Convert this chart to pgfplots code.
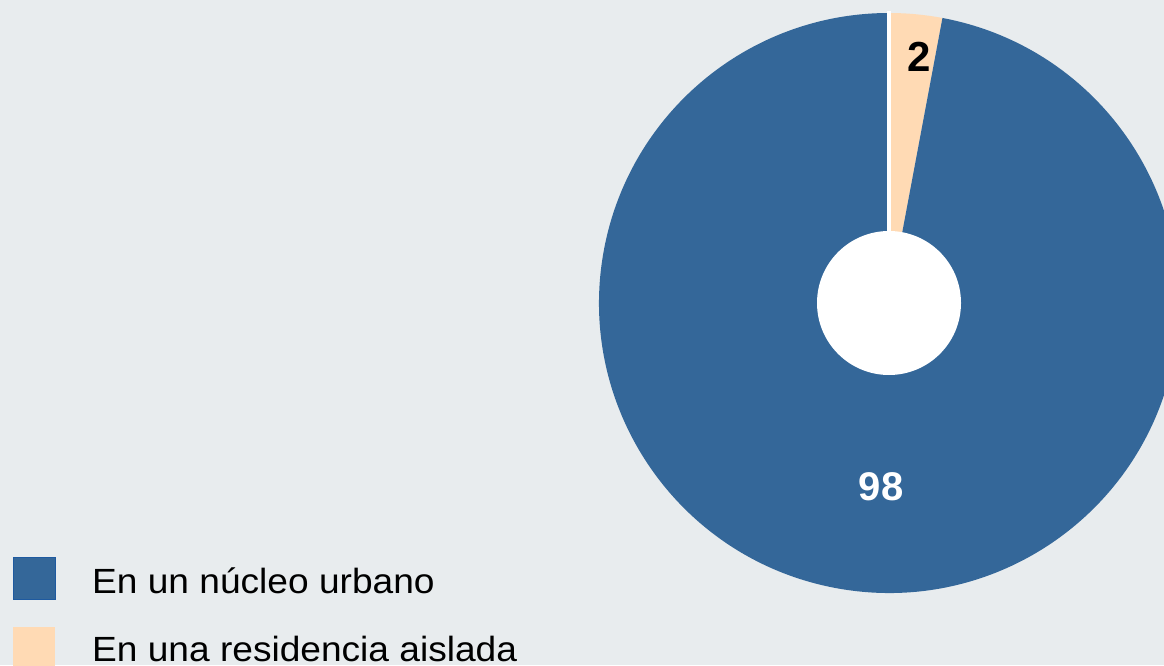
\documentclass[border=0pt]{standalone}
\usepackage{pgfplots}
\pgfplotsset{compat=1.18}
\usepackage{fontspec}
\setmainfont{Liberation Sans}
\newfontfamily\legfont{Liberation Sans}[FakeStretch=1.06]
\definecolor{bg}{RGB}{232,236,238}
\definecolor{cblue}{RGB}{52,103,153}
\definecolor{cblueedge}{RGB}{30,90,160}
\definecolor{cpeach}{RGB}{255,218,180}
\begin{document}
\begin{tikzpicture}
\def\valA{97.05}% En un nucleo urbano (label 98)
\def\valB{2.95}% En una residencia aislada (label 2)
\begin{axis}[x=1pt,y=1pt,xmin=0,xmax=1164,ymin=0,ymax=665,hide axis,clip=true,
  axis line style={draw=none}]
\fill[bg] (axis cs:0,0) rectangle (axis cs:1164,665);
\pgfmathsetmacro{\angB}{360*\valB/100}
\pgfmathsetmacro{\endB}{90-\angB}
\pgfmathsetmacro{\endA}{90-360}
% peach slice
\fill[cpeach] (axis cs:889,362) -- ++(90:290pt) arc[start angle=90,end angle=\endB,radius=290pt] -- cycle;
% blue slice
\fill[cblue] (axis cs:889,362) -- ++(\endB:290pt) arc[start angle=\endB,end angle=\endA,radius=290pt] -- cycle;
\draw[white,line width=4pt] (axis cs:889,362) -- ++(90:292pt);
\fill[white] (axis cs:889,362) circle[radius=72pt];
\node[font=\fontsize{42}{42}\selectfont\bfseries,text=black] at (axis cs:919,608) {2};
\node[font=\fontsize{40}{40}\selectfont\bfseries,text=white] at (axis cs:881,178) {98};
% legend
\fill[cblue,draw=cblueedge,line width=1pt] (axis cs:13.5,65.5) rectangle (axis cs:55,107.5);
\fill[cpeach] (axis cs:13,-5) rectangle (axis cs:55,38);
\node[anchor=base west,font=\legfont\fontsize{35}{35}\selectfont,inner sep=0pt] at (axis cs:92,71.7) {En un núcleo urbano};
\node[anchor=base west,font=\legfont\fontsize{35}{35}\selectfont,inner sep=0pt] at (axis cs:92,3.2) {En una residencia aislada};
\end{axis}
\end{tikzpicture}
\end{document}
